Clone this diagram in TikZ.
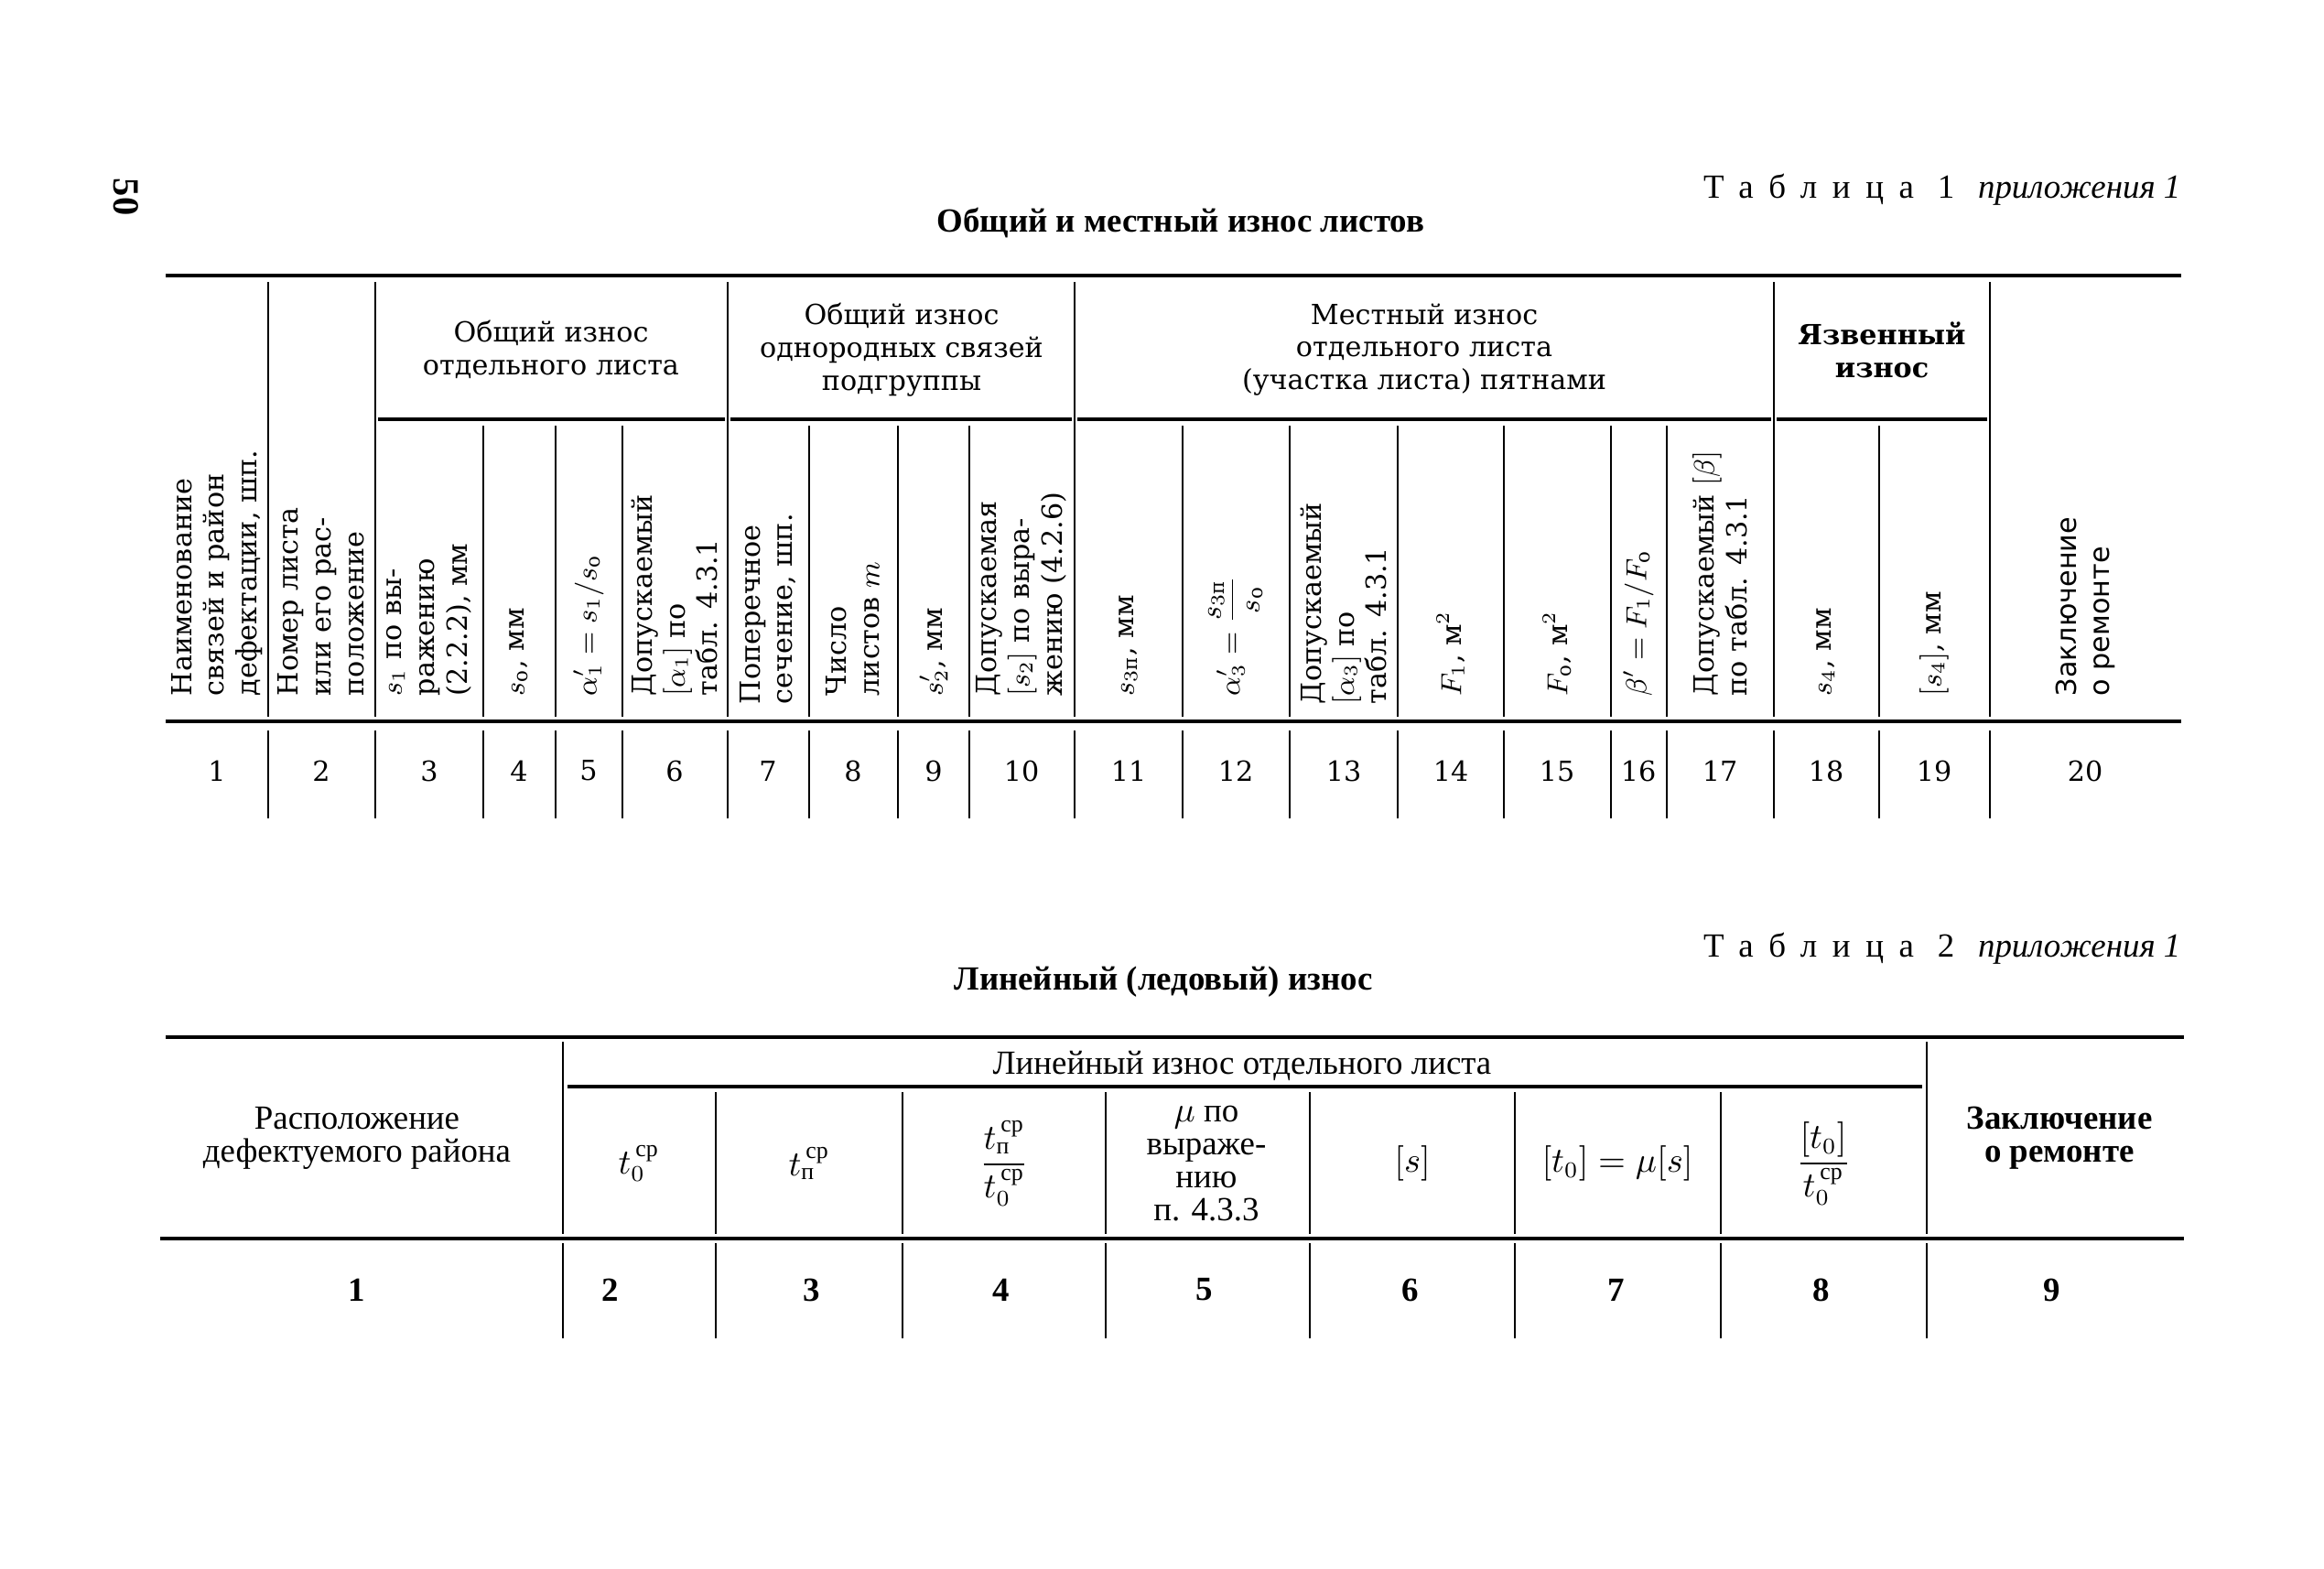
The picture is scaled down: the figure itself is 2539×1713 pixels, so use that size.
\documentclass[tikz,border=0pt]{standalone}
\usepackage{amsmath}
\usepackage{fontspec}
\setmainfont{DejaVu Serif}
\setsansfont{DejaVu Sans}
\newfontfamily\tabtwo{Liberation Serif}

\tikzset{
  tabrule/.style={line width=0.9pt},
  colrule/.style={line width=0.7pt},
  t1font/.style={font=\fontsize{8.6}{10.2}\selectfont},
  t2font/.style={font=\tabtwo\fontsize{10.5}{10.2}\selectfont},
  rothead/.style={t1font, rotate=90, anchor=west, align=left, inner sep=0pt},
  grouphead/.style={t1font, align=center, inner sep=0pt},
  cellhead/.style={t2font, align=center, inner sep=0pt},
}

\begin{document}
\begin{tikzpicture}[x=0.1mm, y=-0.1mm]
\useasboundingbox (0,0) rectangle (2539,1713);

% page number and captions
\node[rotate=-90, font=\tabtwo\fontsize{11.5}{12}\selectfont\bfseries] (pagenum) at (138,215) {50};
\node[anchor=east, inner sep=0pt, t2font] (cap1) at (2383,207)
  {{\addfontfeature{LetterSpace=45}Таблица }1\hspace{0.7em}\textit{приложения 1}};
\node[font=\tabtwo\fontsize{10.5}{12}\selectfont\bfseries] (title1) at (1290,243) {Общий и местный износ листов};

% table 1: rules
\draw[tabrule] (181,301) -- (2383,301);
\draw[tabrule] (181,788) -- (2383,788);
\foreach \a/\b in {413/792, 798/1171, 1177/1935, 1941/2171}
  \draw[tabrule] (\a,458) -- (\b,458);
\foreach \x in {293,410,795,1174,1938,2174}
  \draw[colrule] (\x,308) -- (\x,783);
\foreach \x in {528,607,680,884,981,1059,1292,1409,1527,1643,1760,1821,2053}
  \draw[colrule] (\x,465) -- (\x,783);
\foreach \x in {293,410,528,607,680,795,884,981,1059,1174,1292,1409,1527,1643,1760,1821,1938,2053,2174}
  \draw[colrule] (\x,798) -- (\x,894);

% table 1: group heads
\node[grouphead] (g1) at (602,382) {Общий износ\\отдельного листа};
\node[grouphead] (g2) at (985,382) {Общий износ\\однородных связей\\подгруппы};
\node[grouphead] (g3) at (1556,382) {Местный износ\\отдельного листа\\(участка листа) пятнами};
\node[grouphead, font=\fontsize{8.6}{10.2}\selectfont\bfseries] (g4) at (2056,382) {Язвенный\\износ};

% table 1: column heads
\node[rothead] (h1) at (237,761) {Наименование\\связей и район\\дефектации, шп.};
\node[rothead] (h2) at (351,761) {Номер листа\\или его рас-\\положение};
\node[rothead] (h3) at (469,761) {$s_1$ по вы-\\ражению\\(2.2.2), мм};
\node[rothead] (h4) at (567,761) {$s_{\mathrm o}$, мм};
\node[rothead] (h5) at (643,761) {$\alpha_1'=s_1/s_{\mathrm o}$};
\node[rothead] (h6) at (737,761) {Допускаемый\\$[\alpha_1]$ по\\табл. 4.3.1};
\node[rothead] (h7) at (839,770) {Поперечное\\сечение, шп.};
\node[rothead] (h8) at (932,761) {Число\\листов $m$};
\node[rothead] (h9) at (1020,761) {$s_2'$, мм};
\node[rothead] (h10) at (1116,761) {Допускаемая\\$[s_2]$ по выра-\\жению (4.2.6)};
\node[rothead] (h11) at (1233,761) {$s_{3\text{п}}$, мм};
\node[rothead] (h12) at (1350,761) {$\alpha_3'=\dfrac{s_{3\text{п}}}{s_{\mathrm o}}$};
\node[rothead] (h13) at (1468,770) {Допускаемый\\$[\alpha_3]$ по\\табл. 4.3.1};
\node[rothead] (h14) at (1585,761) {$F_1$, м$^2$};
\node[rothead] (h15) at (1701,761) {$F_{\mathrm o}$, м$^2$};
\node[rothead] (h16) at (1790,761) {$\beta'=F_1/F_{\mathrm o}$};
\node[rothead] (h17) at (1879,761) {Допускаемый $[\beta]$\\по табл. 4.3.1};
\node[rothead] (h18) at (1995,761) {$s_4$, мм};
\node[rothead] (h19) at (2113,761) {$[s_4]$, мм};
\node[rothead, font=\sffamily\fontsize{8.6}{10.2}\selectfont] (h20) at (2278,761) {Заключение\\о ремонте};

% table 1: numbers
\foreach \x [count=\i] in {237,351,469,567,643,737,839,932,1020,1116,1233,1350,1468,1585,1701,1790,1879,1995,2113,2278}
  \node[t1font, inner sep=0pt] (n\i) at (\x,842) {\i};

% table 2
\node[anchor=east, inner sep=0pt, t2font] (cap2) at (2383,1036)
  {{\addfontfeature{LetterSpace=45}Таблица }2\hspace{0.7em}\textit{приложения 1}};
\node[font=\tabtwo\fontsize{10.5}{12}\selectfont\bfseries] (title2) at (1271,1073) {Линейный (ледовый) износ};

\draw[tabrule] (181,1133) -- (2386,1133);
\draw[tabrule] (620,1187) -- (2100,1187);
\draw[tabrule] (175,1353) -- (2386,1353);
\foreach \x in {615,2105}
  \draw[colrule] (\x,1138) -- (\x,1348);
\foreach \x in {782,986,1208,1431,1655,1880}
  \draw[colrule] (\x,1193) -- (\x,1348);
\foreach \x in {615,782,986,1208,1431,1655,1880,2105}
  \draw[colrule] (\x,1358) -- (\x,1462);

\node[cellhead] (k0) at (1357,1164) {Линейный износ отдельного листа};
\node[cellhead] (k1) at (390,1243) {Расположение\\дефектуемого района};
\node[cellhead] (k2) at (698,1271) {$t_0^{\,\text{ср}}$};
\node[cellhead] (k3) at (884,1271) {$t_{\text{п}}^{\,\text{ср}}$};
\node[cellhead] (k4) at (1097,1271) {$\dfrac{t_{\text{п}}^{\,\text{ср}}}{t_0^{\,\text{ср}}}$};
\node[cellhead] (k5) at (1318,1271) {$\mu$ по\\выраже-\\нию\\п. 4.3.3};
\node[cellhead] (k6) at (1543,1271) {$[s]$};
\node[cellhead] (k7) at (1767,1271) {$[t_0]=\mu[s]$};
\node[cellhead] (k8) at (1992,1271) {$\dfrac{[t_0]}{t_0^{\,\text{ср}}}$};
\node[cellhead, font=\tabtwo\fontsize{10.5}{10.2}\selectfont\bfseries] (k9) at (2250,1243) {Заключение\\о ремонте};

\foreach \x [count=\i] in {390,667,887,1094,1316,1541,1766,1990,2242}
  \node[font=\tabtwo\fontsize{10.5}{12}\selectfont\bfseries, inner sep=0pt] (m\i) at (\x,1409) {\i};
\end{tikzpicture}
\end{document}
